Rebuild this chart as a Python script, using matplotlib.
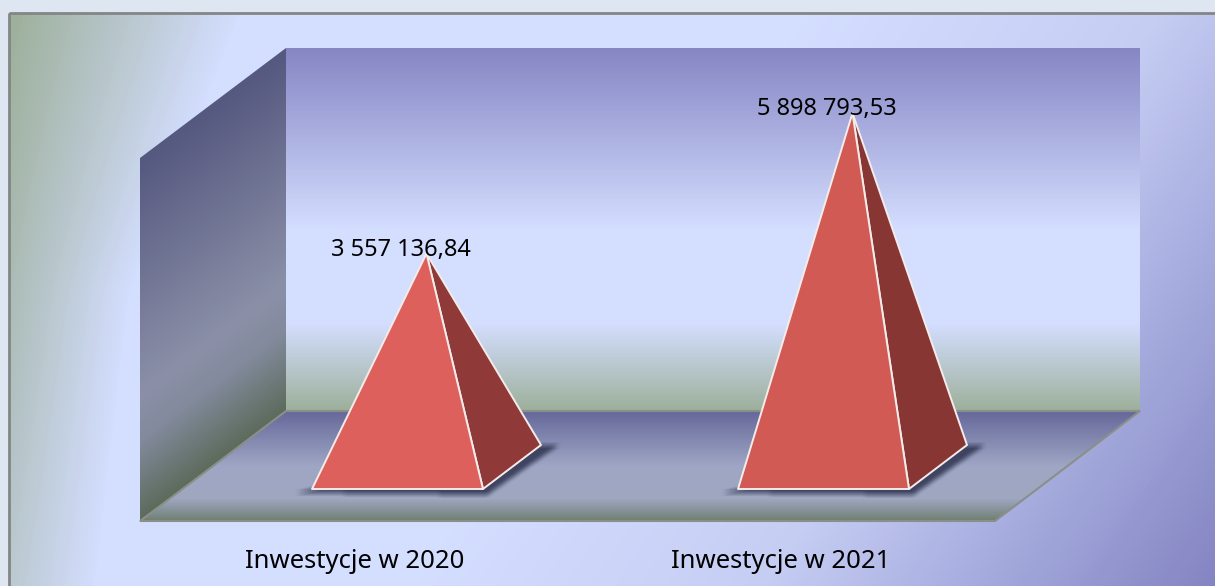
import numpy as np
import matplotlib
matplotlib.use("Agg")
import matplotlib.pyplot as plt
from matplotlib.colors import LinearSegmentedColormap, to_rgb
from matplotlib.patches import Polygon, Rectangle
from matplotlib.path import Path

# dane
kategorie = ["Inwestycje w 2020", "Inwestycje w 2021"]
wartosci = [3557136.84, 5898793.53]
etykiety = ["3 557 136,84", "5 898 793,53"]

kolor_przod = ["#de605c", "#d15a55"]
kolor_bok = ["#8f3a38", "#883634"]

W, H = 1215, 586
plt.rcParams["font.family"] = ["Noto Sans", "DejaVu Sans"]

fig = plt.figure(figsize=(W / 100, H / 100), dpi=100, facecolor="#dde6f1")
ax = fig.add_axes([0, 0, 1, 1])
ax.set_xlim(0, W)
ax.set_ylim(H, 0)
ax.axis("off")

xx, yy = np.meshgrid(np.arange(W) + 0.5, np.arange(H) + 0.5)


def gradient(t, stops, clip):
    cmap = LinearSegmentedColormap.from_list("g", stops)
    im = ax.imshow(cmap(np.clip(t, 0, 1)), extent=(0, W, H, 0), aspect="auto",
                   interpolation="bilinear", zorder=clip.get_zorder())
    ax.add_patch(clip)
    clip.set_facecolor("none")
    im.set_clip_path(clip)


# tlo: zielony rog po lewej, ciemny po prawej na dole
tlo = Rectangle((9, 13), W, H, edgecolor="#858585", linewidth=2, zorder=1)
granica = np.interp(yy, [14, 40, 290, 586], [240, 230, 130, 95])
baza = (yy - 14) / 572 * 0.55
t_lewy = baza + (1 - baza) * (xx - 10) / (granica - 10)
t_prawy = ((xx - 10) * 0.82 + (yy - 14) * 0.57) / 1314
t = np.where(t_lewy < 1, t_lewy * 0.2, np.maximum(t_prawy, 0.2))
gradient(t, [(0, "#9db09b"), (0.2, "#d4deff"), (0.5, "#d4deff"), (0.72, "#c6cdf3"),
             (0.85, "#a6acde"), (1, "#8484c2")], tlo)

# sciana tylna
sciana = Polygon([(286, 48), (1140, 48), (1140, 411), (286, 411)], edgecolor="none", zorder=2)
t = (yy - 48) / (411 - 48)
gradient(t, [(0, "#8686c4"), (0.5, "#d4deff"), (0.76, "#d4deff"), (1, "#9db09b")], sciana)

# sciana boczna
bok = Polygon([(140, 158), (286, 48), (286, 411), (140, 521)], edgecolor="none", zorder=2)
t = (yy - (158 - 0.753 * (xx - 140))) / 363
gradient(t, [(0, "#55587f"), (0.65, "#8b90a8"), (0.78, "#828a9c"), (1, "#5c6b5c")], bok)

# podloga
podloga = Polygon([(140, 521), (286, 411), (1140, 411), (995, 521)],
                  edgecolor="#8a9088", linewidth=1.5, zorder=2)
t = (yy - 411) / 110
gradient(t, [(0, "#66689a"), (0.5, "#9ea6c4"), (0.8, "#9ea6c0"), (1, "#6f7f72")], podloga)

# skala: os kategorii wzdluz podlogi, wartosci w pionie
szer_kat = 426
pol_podstawy = 85.5
gleb_x, gleb_y = 58, -44
px_na_wartosc = 60 / 1e6

for i, (wart, etyk) in enumerate(zip(wartosci, etykiety)):
    srodek = 140 + szer_kat * (i + 0.5)
    fx = srodek + 44.5
    fl = np.array([fx - pol_podstawy, 489.0])
    fr = np.array([fx + pol_podstawy, 489.0])
    br = fr + [gleb_x, gleb_y]
    apex = np.array([fx + gleb_x / 2, 489 + gleb_y / 2 - wart * px_na_wartosc])

    # cien
    cien = Path([fl + [-16, 4], fr + [4, 6], br + [18, 0], br, fl, fl + [-16, 4]])
    maska = cien.contains_points(np.c_[xx.ravel(), yy.ravel()]).reshape(xx.shape).astype(float)
    for os_ in (0, 1):
        maska = np.apply_along_axis(lambda r: np.convolve(r, np.ones(7) / 7, mode="same"), os_, maska)
    rgba = np.zeros((H, W, 4))
    rgba[..., :3] = to_rgb("#3a3f5c")
    rgba[..., 3] = maska * 0.95
    ax.imshow(rgba, extent=(0, W, H, 0), aspect="auto", zorder=3)

    ax.add_patch(Polygon([fr, br, apex], facecolor=kolor_bok[i], edgecolor="#f4ecea",
                         linewidth=1.4, joinstyle="round", zorder=4))
    ax.add_patch(Polygon([fl, fr, apex], facecolor=kolor_przod[i], edgecolor="#f4ecea",
                         linewidth=1.4, joinstyle="round", zorder=5))
    ax.text(fx + 3, apex[1] - 4, etyk, ha="center", va="center", fontsize=17,
            color="black", zorder=6)
    ax.text(srodek + 2, 561, kategorie[i], ha="center", va="center", fontsize=18.5,
            color="black", zorder=6)

ax.set_xlim(0, W)
ax.set_ylim(H, 0)
fig.savefig("out.png", dpi=100)
